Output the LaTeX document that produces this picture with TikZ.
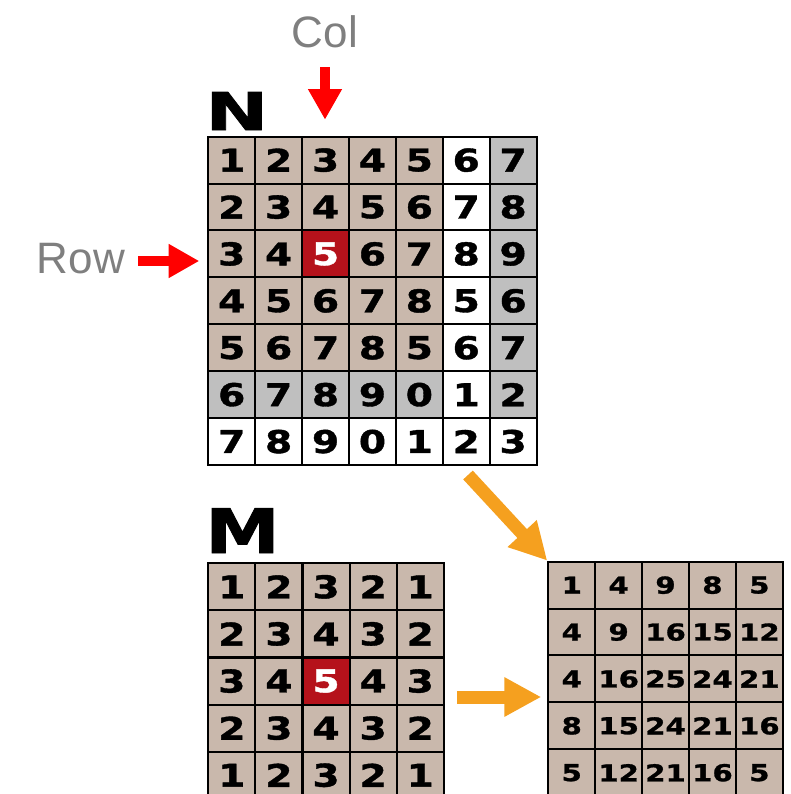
\documentclass[tikz,border=0pt]{standalone}
\usepackage{fontspec}
\setmainfont{Liberation Sans}
\newfontfamily\numfont[FakeStretch=1.25,FakeBold=1.2]{DejaVu Sans Bold}
\newfontfamily\nfont[FakeStretch=1.45,FakeBold=1.5]{DejaVu Sans Bold}
\newfontfamily\mfont[FakeStretch=1.22,FakeBold=1.5]{DejaVu Sans Bold}
\usetikzlibrary{arrows.meta}
\definecolor{tanc}{HTML}{C9B8AC}
\definecolor{grayc}{HTML}{BFBFBF}
\definecolor{redc}{HTML}{B5121B}
\definecolor{labelc}{HTML}{7F7F7F}
\definecolor{orangec}{HTML}{F5A01F}
\definecolor{arrowred}{HTML}{FF0000}
\begin{document}
\begin{tikzpicture}[x=0.75pt,y=-0.75pt,
  cell/.style={draw=black, line width=1.5pt, inner sep=0pt, text=black},
  cellN/.style={cell, minimum size=35.2pt, font=\numfont\fontsize{23.5}{23.5}\selectfont},
  cellM/.style={cell, minimum size=35.3pt, font=\numfont\fontsize{23.5}{23.5}\selectfont},
  cellP/.style={cell, minimum size=35.2pt, font=\numfont\fontsize{17.5}{17.5}\selectfont},
  T/.style={fill=tanc},
  G/.style={fill=grayc},
  W/.style={fill=white},
  R/.style={fill=redc, text=white},
  biglabel/.style={inner sep=0pt, anchor=base west, text=black},
  axislabel/.style={inner sep=0pt, anchor=base, text=labelc, font=\fontsize{33}{33}\selectfont},
  redarrow/.style={draw=arrowred, line width=7.5pt, -{Triangle[length=23pt,width=24pt]}, arrowred},
  orangearrow/.style={draw=orangec, line width=9.75pt, -{Triangle[length=27.75pt,width=27.75pt]}, orangec}
]
\useasboundingbox (0,0) rectangle (791,794);
\clip (0,0) rectangle (791,794);

% Matrix N
\foreach \row [count=\r] in {
  {1/T,2/T,3/T,4/T,5/T,6/W,7/G},
  {2/T,3/T,4/T,5/T,6/T,7/W,8/G},
  {3/T,4/T,5/R,6/T,7/T,8/W,9/G},
  {4/T,5/T,6/T,7/T,8/T,5/W,6/G},
  {5/T,6/T,7/T,8/T,5/T,6/W,7/G},
  {6/G,7/G,8/G,9/G,0/G,1/W,2/G},
  {7/W,8/W,9/W,0/W,1/W,2/W,3/W}} {
  \foreach \v/\f [count=\c] in \row {
    \node[cellN, \f] (n-\r-\c) at ({208.3+46.9*(\c-0.5)},{136.7+46.9*(\r-0.5)}) {\v};
  }
}

% Matrix M
\foreach \row [count=\r] in {
  {1/T,2/T,3/T,2/T,1/T},
  {2/T,3/T,4/T,3/T,2/T},
  {3/T,4/T,5/R,4/T,3/T},
  {2/T,3/T,4/T,3/T,2/T},
  {1/T,2/T,3/T,2/T,1/T}} {
  \foreach \v/\f [count=\c] in \row {
    \node[cellM, \f] (m-\r-\c) at ({208.3+47.1*(\c-0.5)},{563.3+47.1*(\r-0.5)}) {\v};
  }
}

% Product
\foreach \row [count=\r] in {
  {1,4,9,8,5},
  {4,9,16,15,12},
  {4,16,25,24,21},
  {8,15,24,21,16},
  {5,12,21,16,5}} {
  \foreach \v [count=\c] in \row {
    \node[cellP, T] (p-\r-\c) at ({548.3+46.9*(\c-0.5)},{561.7+46.9*(\r-0.5)}) {\v};
  }
}

% Titles
\node[biglabel, font=\nfont\fontsize{39}{39}\selectfont] (ntitle) at (205,130) {N};
\node[biglabel, font=\mfont\fontsize{46}{46}\selectfont] (mtitle) at (205,553) {M};

% Axis labels
\node[axislabel] (collabel) at (325,47) {Col};
\node[axislabel] (rowlabel) at (81,273) {Row};

% Red arrows
\coordinate (colstart) at (325,67);
\draw[redarrow, shorten >=12pt] (colstart) -- (colstart |- n-1-3.north);
\coordinate (rowstart) at (138,261);
\draw[redarrow, shorten >=6pt] (rowstart) -- (rowstart -| n-3-1.west);

% Orange arrows
\coordinate (diagstart) at (468,475);
\draw[orangearrow] (diagstart) -- (p-1-1.north west);
\coordinate (horstart) at (457,697);
\draw[orangearrow, shorten >=4.5pt] (horstart) -- (horstart -| p-3-1.west);
\end{tikzpicture}
\end{document}
